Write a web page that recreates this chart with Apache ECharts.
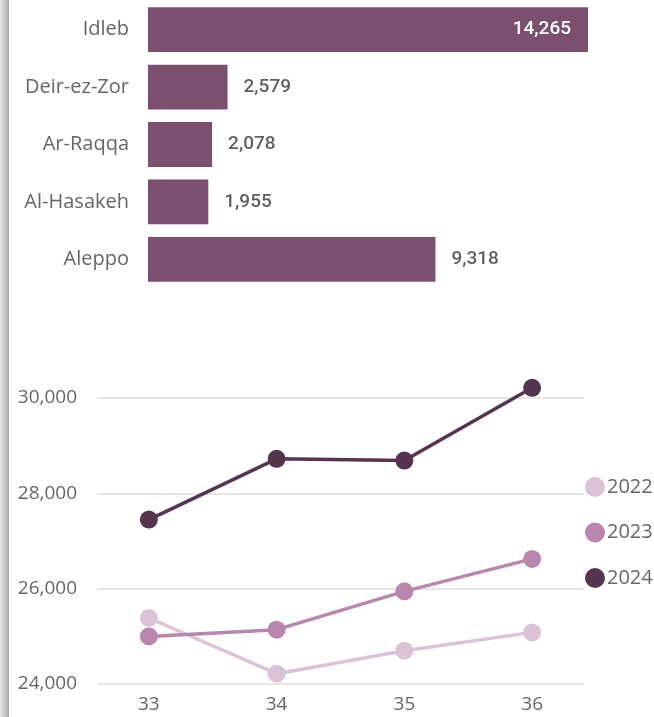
<!DOCTYPE html>
<html>
<head>
<meta charset="utf-8">
<script src="https://cdn.jsdelivr.net/npm/echarts@6/dist/echarts.min.js"></script>
<style>
  html, body { margin: 0; padding: 0; background: #fff; }
  #chart { width: 654px; height: 717px; }
</style>
</head>
<body>
<div id="chart"></div>
<script>
// bar chart data (top to bottom)
const regions = ['Idleb', 'Deir-ez-Zor', 'Ar-Raqqa', 'Al-Hasakeh', 'Aleppo']
const regionValues = [14265, 2579, 2078, 1955, 9318]

// line chart data
const weeks = [33, 34, 35, 36]
const years = ['2022', '2023', '2024']
const values2022 = [25385, 24216, 24699, 25083]
const values2023 = [24999, 25140, 25944, 26624]
const values2024 = [27449, 28723, 28687, 30213]
const yearColors = ['#dcc2d6', '#b986ad', '#54344f']

const fontFamily = '"Open Sans", "Noto Sans", sans-serif'
const grey = '#666'

const chart = echarts.init(document.getElementById('chart'))

const fmt = (v) => v.toLocaleString('en-US')

const lineData = [values2022, values2023, values2024].map((vals) =>
  weeks.map((w, i) => [w, vals[i]])
)

const option = {
  animation: false,
  textStyle: { fontFamily },
  graphic: [
    {
      type: 'rect',
      shape: { x: 0, y: 0, width: 9, height: 717 },
      style: {
        fill: new echarts.graphic.LinearGradient(0, 0, 1, 0, [
          { offset: 0, color: '#e4e4e4' },
          { offset: 0.6, color: '#c4c4c4' },
          { offset: 1, color: '#a6a6a6' },
        ]),
      },
      silent: true,
    },
  ],
  grid: [
    { left: 148, right: 66, top: 1, height: 287, containLabel: false },
    { left: 97, right: 70, top: 398, height: 286, containLabel: false },
  ],
  legend: {
    data: years,
    orient: 'vertical',
    left: 585,
    top: 477,
    padding: 0,
    icon: 'circle',
    itemWidth: 20,
    itemHeight: 20,
    itemGap: 25.5,
    textStyle: { fontSize: 20, lineHeight: 20, color: grey, padding: [0, 0, 0, -3] },
  },
  xAxis: [
    {
      gridIndex: 0,
      type: 'value',
      min: 0,
      max: 14265,
      show: false,
    },
    {
      gridIndex: 1,
      type: 'value',
      min: 32.594,
      max: 36.406,
      axisLine: { show: false },
      axisTick: { show: false },
      splitLine: { show: false },
      axisLabel: {
        customValues: weeks,
        fontSize: 19,
        color: grey,
        margin: 11,
      },
    },
  ],
  yAxis: [
    {
      gridIndex: 0,
      type: 'category',
      data: regions,
      inverse: true,
      axisLine: { show: false },
      axisTick: { show: false },
      axisLabel: { fontSize: 20, color: grey, margin: 19 },
    },
    {
      gridIndex: 1,
      type: 'value',
      min: 24000,
      max: 30000,
      interval: 2000,
      axisLine: { show: false },
      axisTick: { show: false },
      axisLabel: { fontSize: 19, color: grey, margin: 20, formatter: fmt },
      splitLine: { lineStyle: { color: '#e6e6e6', width: 2 } },
    },
  ],
  series: [
    {
      type: 'bar',
      xAxisIndex: 0,
      yAxisIndex: 0,
      barCategoryGap: '22%',
      itemStyle: { color: '#7b4f6e' },
      data: regionValues.map((v, i) => ({
        value: v,
        label: i === 0
          ? { position: 'insideRight', color: '#fff', distance: 17 }
          : { position: 'right', color: '#5f5f5f', distance: 16 },
      })),
      label: {
        show: true,
        fontSize: 19,
        fontWeight: 500,
        fontFamily: 'Roboto, sans-serif',
        formatter: (p) => fmt(p.value),
      },
    },
    ...years.map((y, i) => ({
      name: y,
      type: 'line',
      xAxisIndex: 1,
      yAxisIndex: 1,
      data: lineData[i],
      clip: false,
      symbol: 'circle',
      symbolSize: 18,
      color: yearColors[i],
      lineStyle: { width: 3.5, color: yearColors[i] },
      itemStyle: { color: yearColors[i] },
      z: 2 + i,
    })),
  ],
}

chart.setOption(option)
</script>
</body>
</html>
